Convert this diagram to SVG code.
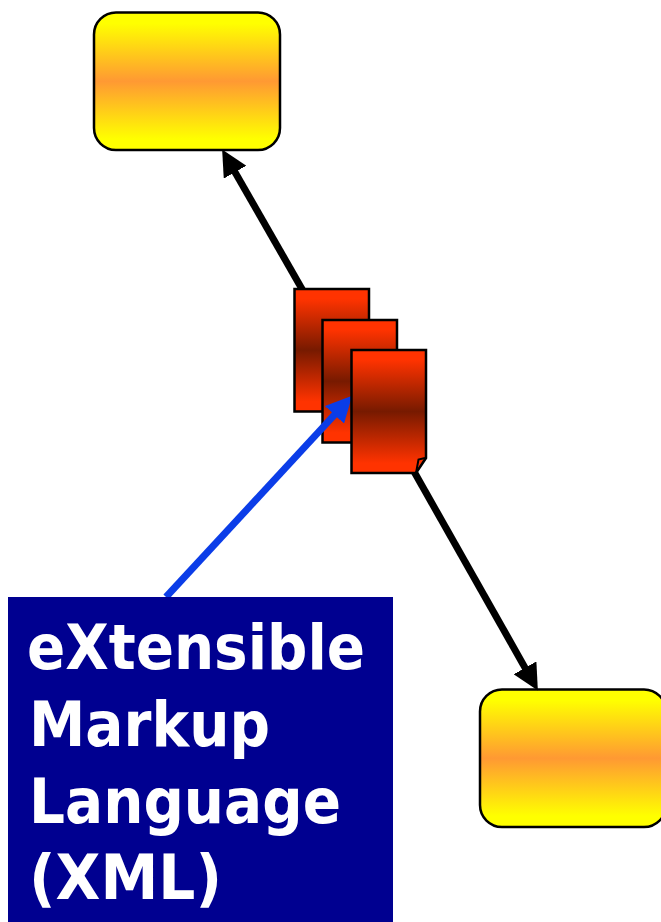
<svg xmlns="http://www.w3.org/2000/svg" width="661" height="922" viewBox="0 0 661 922">
<style>
.box{fill:url(#yellow);stroke:#000;stroke-width:2.5}
.doc{fill:url(#red);stroke:#000;stroke-width:2.5;stroke-linejoin:miter}
.k{stroke:#000;stroke-width:7;fill:none}
.b{stroke:#0b3de8;stroke-width:7;fill:none}
.t{font-family:"DejaVu Sans",Verdana,sans-serif;font-weight:700;font-size:62px;fill:#fff}
</style>
<defs>
<linearGradient id="yellow" x1="0" y1="0" x2="0" y2="1"><stop offset="0" stop-color="#ffff00"/><stop offset="0.08" stop-color="#ffff00"/><stop offset="0.5" stop-color="#ff9933"/><stop offset="0.92" stop-color="#ffff00"/><stop offset="1" stop-color="#ffff00"/></linearGradient>
<linearGradient id="red" x1="0" y1="0" x2="0" y2="1"><stop offset="0" stop-color="#ff3300"/><stop offset="0.08" stop-color="#ff3300"/><stop offset="0.5" stop-color="#771a00"/><stop offset="0.92" stop-color="#ff3300"/><stop offset="1" stop-color="#ff3300"/></linearGradient>
<marker id="ah" markerUnits="userSpaceOnUse" markerWidth="26" markerHeight="26" refX="4" refY="12" orient="auto" viewBox="0 0 24 24"><path d="M0,0L24,12L0,24z" fill="#000"/></marker>
<marker id="ab" markerUnits="userSpaceOnUse" markerWidth="26" markerHeight="26" refX="4" refY="12" orient="auto" viewBox="0 0 24 24"><path d="M0,0L24,12L0,24z" fill="#0b3de8"/></marker>
<clipPath id="above"><rect x="0" y="0" width="661" height="288"/></clipPath>
</defs>
<rect width="661" height="922" fill="#fff"/>
<g id="node-top"><rect class="box" x="94" y="12.500" width="186" height="137.500" rx="22" ry="22"/></g>
<g id="node-bottom"><rect class="box" x="480" y="689.500" width="186" height="137.500" rx="22" ry="22"/></g>
<g id="doc-1"><rect class="doc" x="294.500" y="289" width="74.500" height="122.500"/></g>
<g id="doc-2"><rect class="doc" x="322.500" y="320" width="74.500" height="122.500"/></g>
<g id="connectors">
<g clip-path="url(#above)"><line class="k" x1="310" y1="303" x2="232.900" y2="168.400" marker-end="url(#ah)"/></g>
<line class="k" x1="412" y1="468" x2="527.200" y2="671.600" marker-end="url(#ah)"/>
<line class="b" x1="166" y1="597" x2="337.400" y2="411.700" marker-end="url(#ab)"/>
</g>
<g id="doc-3"><path class="doc" d="M351.500,350H426V458L416,473H351.500Z"/><path d="M416,473L418.500,459.500L425,458" fill="none" stroke="#000" stroke-width="2"/></g>
<g id="label"><rect x="8" y="597" width="385" height="325" fill="#000090"/>
<text class="t" x="27" y="669" textLength="338" lengthAdjust="spacingAndGlyphs">eXtensible</text>
<text class="t" x="29" y="746" textLength="241" lengthAdjust="spacingAndGlyphs">Markup</text>
<text class="t" x="29" y="823" textLength="312" lengthAdjust="spacingAndGlyphs">Language</text>
<text class="t" x="29" y="899" textLength="193" lengthAdjust="spacingAndGlyphs">(XML)</text>
</g>
</svg>
